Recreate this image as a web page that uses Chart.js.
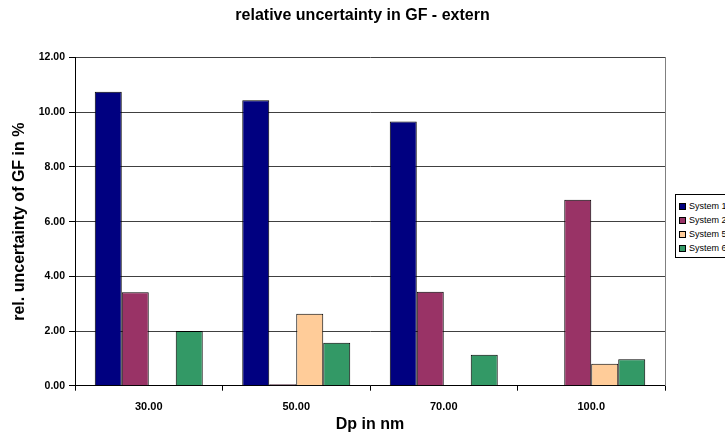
<!DOCTYPE html>
<html><head><meta charset="utf-8">
<script src="https://cdn.jsdelivr.net/npm/chart.js@4/dist/chart.umd.min.js"></script>
<style>
html,body{margin:0;padding:0;overflow:hidden;background:#fff;}
#wrap{position:relative;width:725px;height:439px;overflow:hidden;}
canvas{display:block;}
#legend{position:absolute;left:675px;top:194px;width:80px;border:1px solid #000;background:#fff;padding:4px 0 2px 3px;font:9px "Liberation Sans",Arial,sans-serif;color:#000;}
.row{display:flex;align-items:center;height:14px;white-space:nowrap;}
.sw{width:5px;height:5px;border:1px solid #000;margin-right:3px;flex:none;}
</style></head><body>
<div id="wrap"><canvas id="c" width="725" height="439"></canvas><div id="legend"></div></div>
<script>
const categories = ['30.00', '50.00', '70.00', '100.0'];
const seriesNames = ['System 1', 'System 2', 'System 5', 'System 6'];
const system1 = [10.75, 10.44, 9.66, null];
const system2 = [3.42, 0.03, 3.44, 6.80];
const system5 = [null, 2.63, null, 0.80];
const system6 = [2.00, 1.57, 1.13, 0.97];
const yTicks = [0, 2, 4, 6, 8, 10, 12];
const colors = ['#000080', '#993366', '#FFCC99', '#339966'];

const FAM = '"Liberation Sans", Arial, sans-serif';
Chart.defaults.font.family = FAM;
Chart.defaults.color = '#000';

const seriesData = [system1, system2, system5, system6];
const datasets = seriesNames.map((n, i) => ({
  label: n,
  data: seriesData[i],
  backgroundColor: colors[i],
  borderColor: '#000',
  borderWidth: 1,
  minBarLength: 1.5,
  categoryPercentage: 0.732,
  barPercentage: 1
}));

new Chart(document.getElementById('c'), {
  type: 'bar',
  data: { labels: categories, datasets },
  options: {
    responsive: false,
    animation: false,
    devicePixelRatio: 1,
    layout: { padding: 0 },
    plugins: {
      legend: { display: false },
      tooltip: { enabled: false },
      title: {
        display: true,
        text: 'relative uncertainty in GF - extern',
        color: '#000',
        font: { size: 16, weight: 'bold', family: FAM },
        padding: { top: 6, bottom: 32.4 }
      }
    },
    scales: {
      x: {
        offset: true,
        grid: { offset: true, drawOnChartArea: false, tickColor: '#000', tickLength: 5 },
        border: { color: '#000' },
        ticks: { color: '#000', font: { size: 11, weight: 'bold' }, padding: 10, maxRotation: 0 },
        title: { display: true, text: 'Dp in nm', color: '#000', font: { size: 16, weight: 'bold' }, padding: { top: 4.5, bottom: 4.5 } },
        afterFit: s => { s.height = 53.3; }
      },
      y: {
        min: 0, max: 12,
        afterBuildTicks: s => { s.ticks = yTicks.map(v => ({ value: v })); },
        ticks: { color: '#000', font: { size: 10.5, weight: 'bold' }, padding: 4, callback: v => Number(v).toFixed(2) },
        grid: { color: '#404040', tickColor: '#000', tickLength: 6, lineWidth: 1 },
        border: { color: '#000' },
        title: { display: true, text: 'rel. uncertainty of GF in %', color: '#000', font: { size: 16, weight: 'bold' }, padding: { top: 9.5, bottom: 0 } },
        afterFit: s => { s.width = 75; }
      },
      y2: {
        position: 'right',
        min: 0, max: 12,
        ticks: { display: false },
        grid: { drawOnChartArea: false, drawTicks: false },
        border: { display: true, color: '#808080' },
        afterFit: s => { s.width = 60; }
      }
    }
  }
});

const lg = document.getElementById('legend');
seriesNames.forEach((n, i) => {
  const r = document.createElement('div'); r.className = 'row';
  const sw = document.createElement('span'); sw.className = 'sw'; sw.style.background = colors[i];
  const t = document.createElement('span'); t.textContent = n;
  r.appendChild(sw); r.appendChild(t); lg.appendChild(r);
});
</script>
</body></html>
